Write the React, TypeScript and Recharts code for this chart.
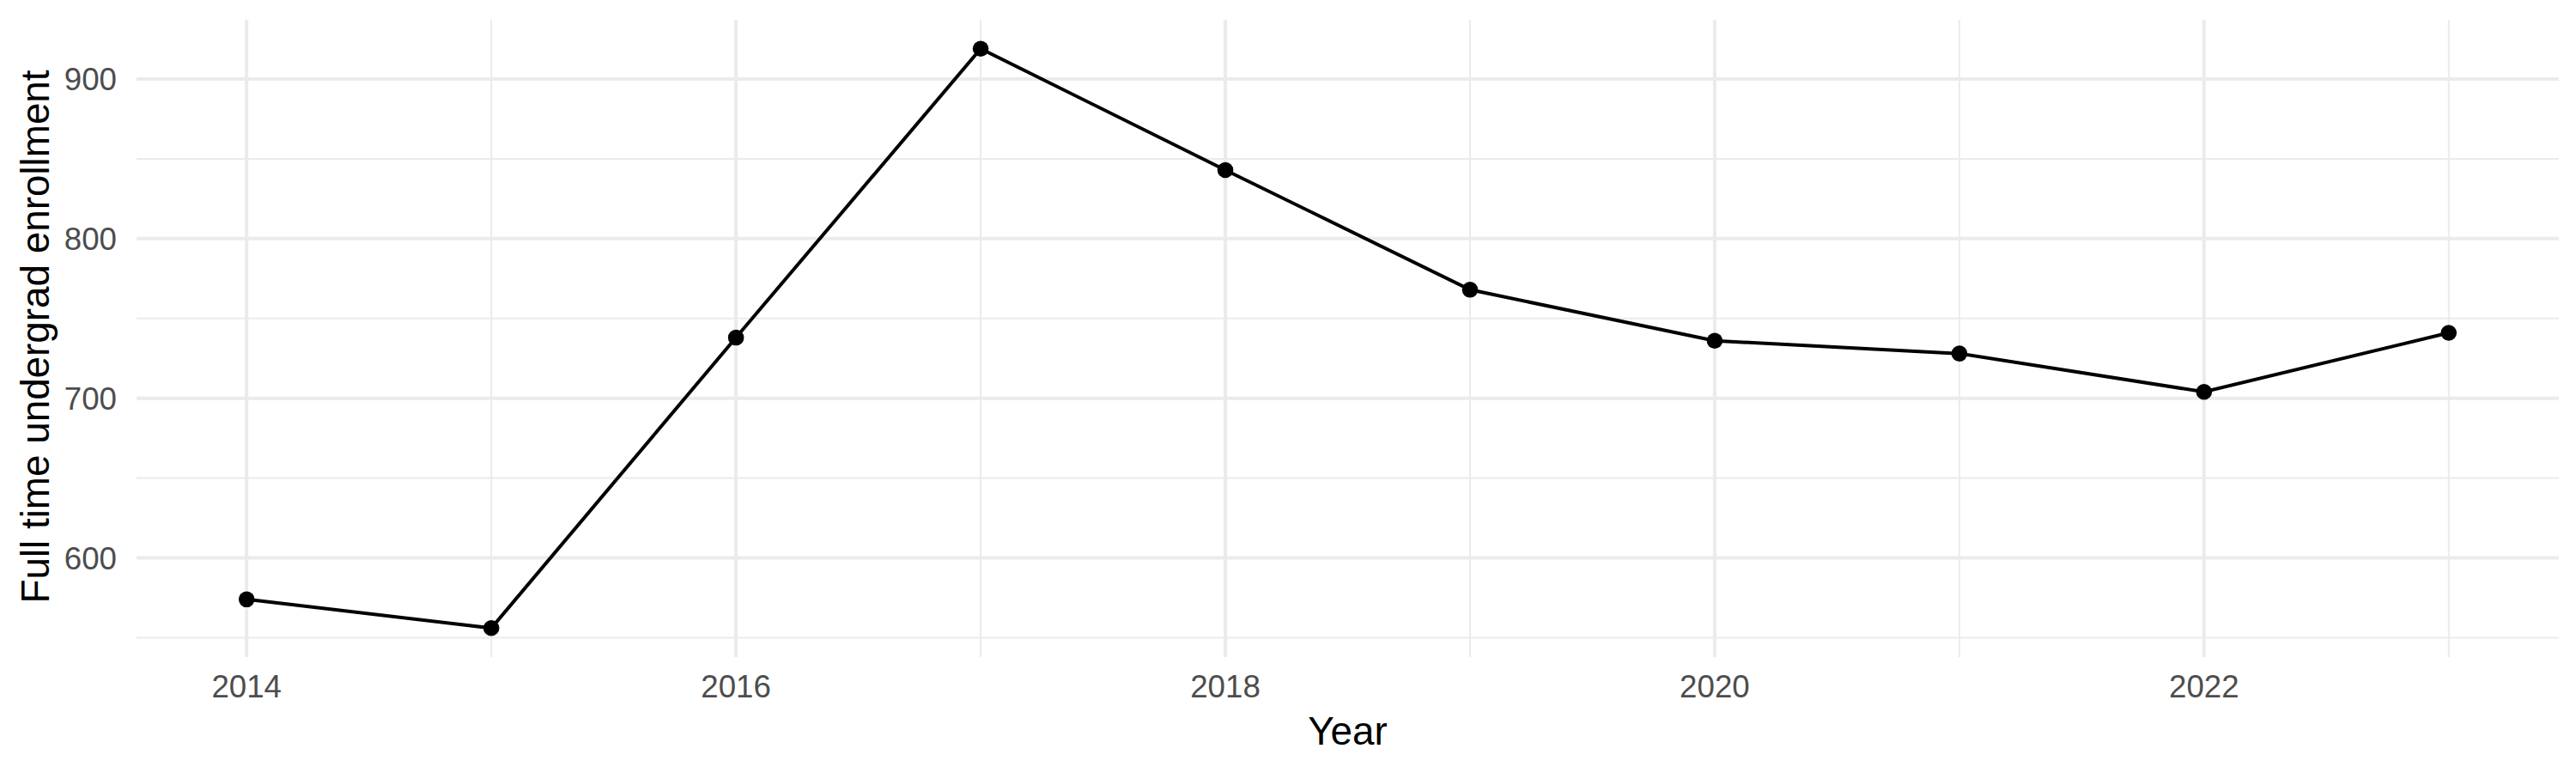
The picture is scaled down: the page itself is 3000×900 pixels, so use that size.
import React from "react";
import { LineChart, Line, XAxis, YAxis, ReferenceLine, Label } from "recharts";

const years = [2014, 2015, 2016, 2017, 2018, 2019, 2020, 2021, 2022, 2023];
const enrollment = [574, 556, 738, 919, 843, 768, 736, 728, 704, 741];
const xMajorTicks = [2014, 2016, 2018, 2020, 2022];
const xMinorTicks = [2015, 2017, 2019, 2021, 2023];
const yMajorTicks = [600, 700, 800, 900];
const yMinorTicks = [550, 650, 750, 850];

const data = years.map((year, i) => ({ year, value: enrollment[i] }));

const xMin = Math.min(...years);
const xMax = Math.max(...years);
const xPad = (xMax - xMin) * 0.05;
const yMin = Math.min(...enrollment);
const yMax = Math.max(...enrollment);
const yPad = (yMax - yMin) * 0.05;

const FONT = "'Liberation Sans', Arial, Helvetica, sans-serif";
const GRID = "#EBEBEB";

const XTitle = (props: any) => {
  const vb = props.viewBox || {};
  return (
    <text
      x={vb.x + vb.width / 2}
      y={vb.y + 102}
      textAnchor="middle"
      fontFamily={FONT}
      fontSize={45.8}
      fill="#000"
    >
      Year
    </text>
  );
};

const YTitle = (props: any) => {
  const vb = props.viewBox || {};
  const cx = vb.x + 18;
  const cy = vb.y + vb.height / 2 - 2;
  return (
    <text
      x={cx}
      y={cy}
      transform={`rotate(-90 ${cx} ${cy})`}
      textAnchor="middle"
      fontFamily={FONT}
      fontSize={45.8}
      fill="#000"
    >
      Full time undergrad enrollment
    </text>
  );
};

export default function App() {
  return (
    <div style={{ position: "absolute", left: 0, top: 0, background: "#fff" }}>
      <LineChart
        width={3000}
        height={900}
        data={data}
        margin={{ top: 23, right: 20, left: 39, bottom: 0 }}
      >
        <XAxis
          dataKey="year"
          type="number"
          domain={[xMin - xPad, xMax + xPad]}
          ticks={xMajorTicks}
          allowDataOverflow
          axisLine={false}
          tickLine={false}
          tickSize={0}
          tickMargin={21}
          height={135}
          tick={{ fill: "#4D4D4D", fontSize: 36.7, fontFamily: FONT }}
        >
          <Label content={XTitle} />
        </XAxis>
        <YAxis
          type="number"
          domain={[yMin - yPad, yMax + yPad]}
          ticks={yMajorTicks}
          allowDataOverflow
          axisLine={false}
          tickLine={false}
          tickSize={0}
          tickMargin={23}
          width={120}
          tick={{ fill: "#4D4D4D", fontSize: 36.7, fontFamily: FONT }}
        >
          <Label content={YTitle} />
        </YAxis>
        {yMinorTicks.map((v) => (
          <ReferenceLine key={`ym${v}`} y={v} stroke={GRID} strokeWidth={2} />
        ))}
        {xMinorTicks.map((v) => (
          <ReferenceLine key={`xm${v}`} x={v} stroke={GRID} strokeWidth={2} />
        ))}
        {yMajorTicks.map((v) => (
          <ReferenceLine key={`yM${v}`} y={v} stroke={GRID} strokeWidth={4} />
        ))}
        {xMajorTicks.map((v) => (
          <ReferenceLine key={`xM${v}`} x={v} stroke={GRID} strokeWidth={4} />
        ))}
        <Line
          type="linear"
          dataKey="value"
          stroke="#000"
          strokeWidth={4}
          dot={{ r: 9.3, fill: "#000", stroke: "none" }}
          activeDot={false}
          isAnimationActive={false}
        />
      </LineChart>
    </div>
  );
}
